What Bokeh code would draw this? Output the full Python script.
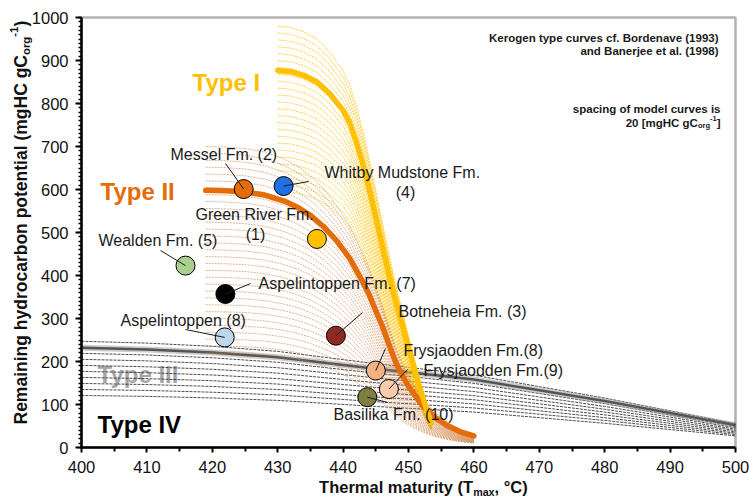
import math

from bokeh.core.properties import value
from bokeh.embed import file_html
from bokeh.models import BoxAnnotation, ColumnDataSource, FixedTicker, Range1d
from bokeh.plotting import figure
from bokeh.resources import INLINE

# ---------------------------------------------------------------------------
# Kerogen type reference curves (Tmax in deg C, remaining potential in mgHC/gCorg)
# ---------------------------------------------------------------------------
TYPE_I_TMAX = [430, 432, 434, 436, 438, 440, 441, 442, 443, 444, 445, 446,
               447, 448, 449, 450, 451, 452, 453, 453.5]
TYPE_I_HI = [877, 874, 865, 850, 822, 784, 755, 712, 660, 600, 535, 468,
             402, 342, 287, 232, 178, 125, 78, 57]

TYPE_II_TMAX = [419, 422, 425, 428, 431, 433, 435, 437, 439, 441, 443, 444,
                445, 446, 447, 448, 449, 450, 452, 454, 456, 458, 460]
TYPE_II_HI = [598, 597, 594, 587, 573, 559, 540, 514, 481, 440, 385, 355,
              318, 282, 240, 200, 168, 142, 100, 70, 50, 36, 27]

TYPE_III_TMAX = [400, 410, 420, 430, 440, 445, 450, 460, 470, 480, 490, 500]
TYPE_III_HI = [232, 228, 221, 210, 192, 183, 175, 158, 133, 108, 80, 52]

# Starting potentials of the model curve families
TYPE_I_FAMILY = [596, 612, 628, 644, 660, 676, 692, 708, 724, 740, 756, 772,
                 788, 804, 820, 836, 852, 868, 884, 900, 916, 932, 948, 964, 980]
TYPE_II_FAMILY = [220, 236, 252, 268, 284, 300, 316, 332, 348, 364, 380, 396,
                  412, 428, 444, 460, 476, 492, 508, 524, 540, 556, 572, 588,
                  604, 620, 636, 652, 668, 684, 700]
TYPE_III_FAMILY = [121, 135, 149, 163, 177, 191, 205, 219, 233, 247]

# Measured samples
FORMATIONS = ["Messel Fm. (2)", "Whitby Mudstone Fm. (4)", "Green River Fm. (1)",
              "Wealden Fm. (5)", "Aspelintoppen Fm. (7)", "Aspelintoppen (8)",
              "Botneheia Fm. (3)", "Frysjaodden Fm.(8)", "Frysjaodden Fm.(9)",
              "Basilika Fm. (10)"]
SAMPLE_TMAX = [424.8, 430.9, 436.0, 415.9, 422.0, 421.9, 438.9, 445.0, 447.0, 443.7]
SAMPLE_HI = [601, 608, 485, 423, 357, 256, 260, 179, 136, 117]

X_TICKS = [400, 410, 420, 430, 440, 450, 460, 470, 480, 490, 500]
Y_TICKS = [0, 100, 200, 300, 400, 500, 600, 700, 800, 900, 1000]

# ---------------------------------------------------------------------------
# Layout and styling
# ---------------------------------------------------------------------------
SAMPLE_FILL = ["#E46C0A", "#1F6FE5", "#FFC000", "#A9D08E", "#000000",
               "#BDD7EE", "#8E2A22", "#F4B183", "#F8CBAD", "#7F7F40"]
FONT = "Liberation Sans"
W, H = 749, 497
# pixel box of the axes (400..500 degC, 0..1000)
BOX_L, BOX_R, BOX_T, BOX_B = 81, 735, 17, 447
X0, X1, Y0, Y1 = 400, 500, 0, 1000
KX = (BOX_R - BOX_L) / (X1 - X0)
KY = (BOX_B - BOX_T) / (Y1 - Y0)


def to_data(sx, sy):
    """Canvas pixel position -> data coordinates."""
    return X0 + (sx - BOX_L) / KX, Y0 + (BOX_B - sy) / KY


# the frame covers the whole canvas; axes are pinned to the 400/0 corner
xr = Range1d(X0 - BOX_L / KX, X1 + (W - BOX_R) / KX)
yr = Range1d(Y0 - (H - BOX_B) / KY, Y1 + BOX_T / KY)
p = figure(width=W, height=H, output_backend="svg", toolbar_location=None,
           x_range=xr, y_range=yr, min_border=0, min_border_left=0,
           min_border_right=0, min_border_top=0, min_border_bottom=0)
p.grid.visible = False
p.background_fill_color = "white"
p.border_fill_color = "white"
p.outline_line_color = None

p.xaxis.fixed_location = Y0
p.yaxis.fixed_location = X0
p.xaxis.bounds = (X0, X1)
p.yaxis.bounds = (Y0, Y1)
p.xaxis.ticker = FixedTicker(ticks=X_TICKS, minor_ticks=[t + 5 for t in X_TICKS[:-1]])
p.yaxis.ticker = FixedTicker(ticks=Y_TICKS, minor_ticks=list(range(0, 1001, 10)))
for ax in (p.xaxis[0], p.yaxis[0]):
    ax.axis_line_width = 2.5
    ax.axis_line_color = "black"
    ax.major_label_text_font = FONT
    ax.major_label_text_font_size = "16.5px"
    ax.major_label_text_color = "#111111"
    ax.major_tick_in = 0
    ax.minor_tick_in = 0
    ax.major_tick_line_color = "black"
    ax.minor_tick_line_color = "black"
p.xaxis.major_tick_out = 5
p.xaxis.minor_tick_out = 4
p.xaxis.major_tick_line_width = 2
p.xaxis.minor_tick_line_width = 2
p.xaxis.major_label_standoff = 8
p.yaxis.major_tick_out = 6
p.yaxis.minor_tick_out = 3
p.yaxis.major_tick_line_width = 2
p.yaxis.minor_tick_line_width = 1.5
p.yaxis.major_label_standoff = 7

# top and right edges of the axes box
p.add_layout(BoxAnnotation(left=X0, right=X1, bottom=Y0, top=Y1, fill_alpha=0,
                           line_color="black", line_width=2.5))


def put_text(sx, sy, txt, size, color="#1a1a1a", bold=False, align="left",
             baseline="middle", angle=0.0):
    x, y = to_data(sx, sy)
    p.text(x=[x], y=[y], text=[txt], angle=angle, text_font=value(FONT),
           text_font_size=f"{size}px", text_color=color,
           text_font_style="bold" if bold else "normal",
           text_align=align, text_baseline=baseline)


def family(tmax, hi, starts):
    xs = [list(tmax) for _ in starts]
    ys = [[h * s / hi[0] for h in hi] for s in starts]
    return xs, ys


# Type III label sits underneath its model curves
put_text(97, 374, "Type III", 24, color="#A6A6A6", bold=True)

# Type III family and main curve
xs, ys = family(TYPE_III_TMAX, TYPE_III_HI, TYPE_III_FAMILY)
p.multi_line(xs, ys, line_color="#3a3a3a", line_width=1, line_dash="3 1", line_alpha=0.9)
p.line(TYPE_III_TMAX, TYPE_III_HI, line_color="#9A9A9A", line_width=6, line_alpha=0.5)
p.line(TYPE_III_TMAX, TYPE_III_HI, line_color="#555555", line_width=2.5)

# Type I family
xs, ys = family(TYPE_I_TMAX, TYPE_I_HI, TYPE_I_FAMILY)
p.multi_line(xs, ys, line_color="#FFC000", line_width=1, line_dash="2 1", line_alpha=0.75)

# Type II family
xs, ys = family(TYPE_II_TMAX, TYPE_II_HI, TYPE_II_FAMILY)
p.multi_line(xs, ys, line_color="#CF8245", line_width=1, line_dash="2 1", line_alpha=0.6)

# Main kerogen curves
p.line(TYPE_II_TMAX, TYPE_II_HI, line_color="#E46C0A", line_width=5.5, line_cap="round")
p.line(TYPE_I_TMAX, TYPE_I_HI, line_color="#FFC000", line_width=5.5, line_cap="round")

# Samples
src = ColumnDataSource(dict(x=SAMPLE_TMAX, y=SAMPLE_HI, fill=SAMPLE_FILL, name=FORMATIONS))
p.scatter("x", "y", source=src, size=19, fill_color="fill", line_color="black",
          line_width=1)

# Sample labels: (text lines with pixel anchor / alignment), leader end in pixels
LABEL_LAYOUT = [
    ([("Messel Fm. (2)", 170, 154, "left")], (225, 163)),
    ([("Whitby Mudstone Fm.", 324, 172, "left"), ("(4)", 405, 192, "center")], (308, 181)),
    ([("Green River Fm.", 195, 214, "left"), ("(1)", 255, 234, "center")], None),
    ([("Wealden Fm. (5)", 98, 240, "left")], (160, 250)),
    ([("Aspelintoppen  Fm. (7)", 258, 283, "left")], (250, 283)),
    ([("Aspelintoppen  (8)", 120, 320, "left")], (185, 329)),
    ([("Botneheia Fm. (3)", 398, 311, "left")], (362, 312)),
    ([("Frysjaodden  Fm.(8)", 403, 350, "left")], (385, 348)),
    ([("Frysjaodden  Fm.(9)", 423, 370, "left")], (407, 369)),
    ([("Basilika Fm. (10)", 333, 414, "left")], (387, 402)),
]
lx0, ly0, lx1, ly1 = [], [], [], []
for i, (lines, leader) in enumerate(LABEL_LAYOUT):
    for txt, sx, sy, align in lines:
        put_text(sx, sy, txt, 16, align=align)
    if leader is not None:
        ex, ey = to_data(*leader)
        lx0.append(SAMPLE_TMAX[i])
        ly0.append(SAMPLE_HI[i])
        lx1.append(ex)
        ly1.append(ey)
p.segment(lx0, ly0, lx1, ly1, line_color="#1a1a1a", line_width=1)

# Kerogen type names
put_text(192, 82, "Type I", 24, color="#FFC000", bold=True)
put_text(100, 191, "Type II", 24, color="#E46C0A", bold=True)
put_text(97, 424, "Type IV", 24, color="#000000", bold=True)

# Source note and curve spacing note
put_text(718, 37, "Kerogen type curves cf. Bordenave (1993)", 11.5, bold=True, align="right")
put_text(718, 50, "and Banerjee et al. (1998)", 11.5, bold=True, align="right")
put_text(720, 108, "spacing of model curves is", 11.5, bold=True, align="right")
put_text(720, 122, "]", 11.5, bold=True, align="right")
put_text(716.2, 118, "-1", 7.5, bold=True, align="right")
put_text(709.5, 125, "org", 7.5, bold=True, align="right")
put_text(697.4, 122, "20 [mgHC gC", 11.5, bold=True, align="right")

# x-axis title: Thermal maturity (T_max, °C)
FX = 16.5
sx = 318.6
put_text(sx, 486, "Thermal maturity (T", FX, color="#111111", bold=True)
sx += 9.335 * FX
put_text(sx, 491, "max", FX * 0.65, color="#111111", bold=True)
sx += 2.001 * FX * 0.65
put_text(sx, 486, ", °C)", FX, color="#111111", bold=True)

# y-axis title: Remaining hydrocarbon potential (mgHC gC_org^-1)
FY = 17.5
UP = math.pi / 2
sy = 424.0
put_text(20, sy, "Remaining hydrocarbon potential (mgHC gC", FY, color="#111111",
         bold=True, angle=UP)
sy -= 21.114 * FY
put_text(25.5, sy, "org", FY * 0.65, color="#111111", bold=True, angle=UP)
sy -= 1.611 * FY * 0.65
put_text(13.5, sy, "-1", FY * 0.65, color="#111111", bold=True, angle=UP)
sy -= 0.889 * FY * 0.65
put_text(20, sy, ")", FY, color="#111111", bold=True, angle=UP)

open("out.html", "w").write(file_html(p, INLINE))
